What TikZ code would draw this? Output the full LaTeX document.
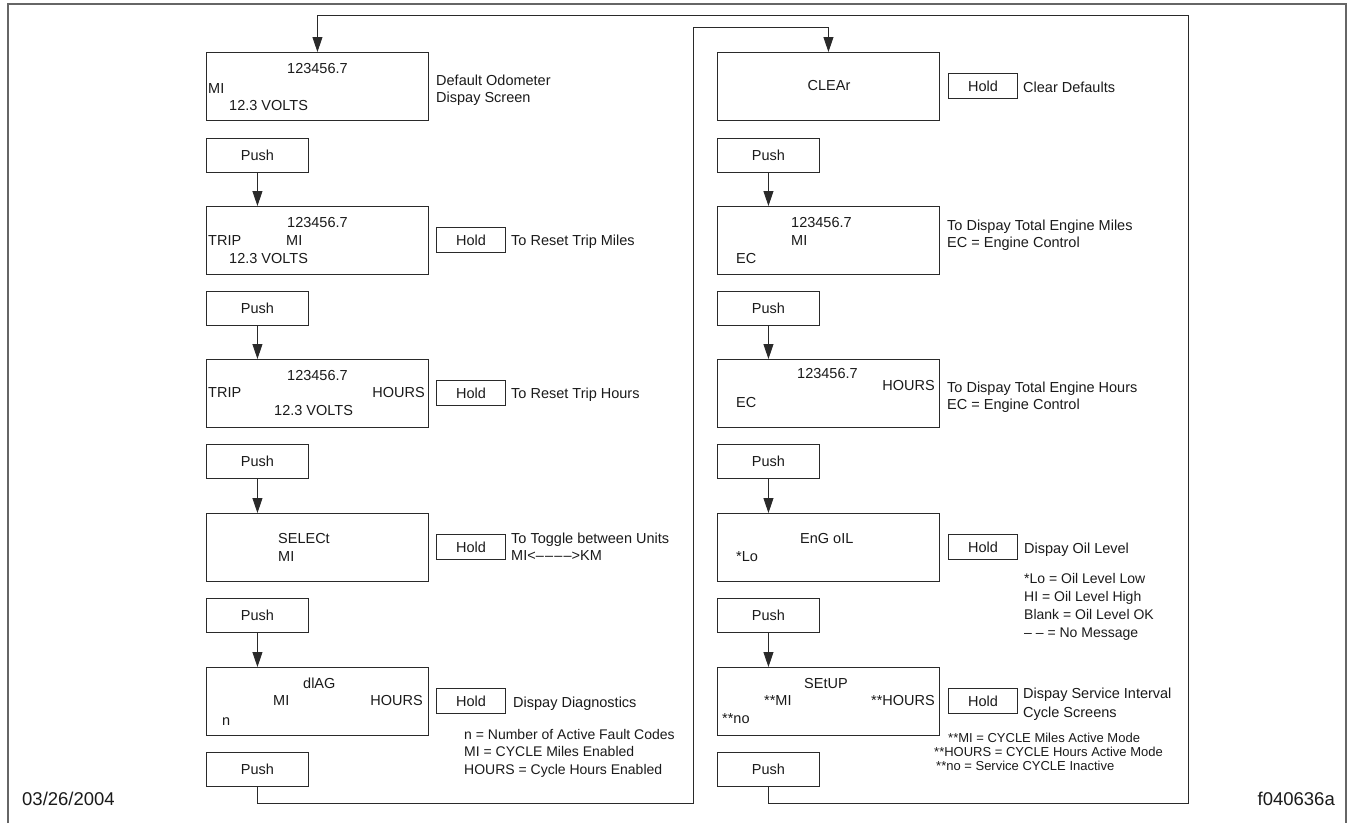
\documentclass[tikz,border=0pt]{standalone}
\usepackage{fontspec}
\setmainfont{Liberation Sans}
\usetikzlibrary{arrows.meta}
\definecolor{linec}{HTML}{2A2A2A}
\definecolor{framec}{HTML}{666666}
\definecolor{textc}{HTML}{1A1A1A}
\newcommand{\dsh}{–\kern1.2pt}
\begin{document}
\begin{tikzpicture}[x=1pt,y=-1pt,
  every node/.append style={font=\fontsize{14.5}{17}\selectfont},
  scr/.style={draw=linec, line width=0.9pt, anchor=north west, inner sep=0pt, minimum width=222pt, minimum height=68pt},
  btn/.style={draw=linec, line width=0.9pt, anchor=north west, inner sep=0pt, text height=10.4pt, text depth=0pt, text=textc},
  pushbox/.style={btn, minimum width=102pt, minimum height=34pt},
  holdbox/.style={btn, minimum width=69pt, minimum height=25pt},
  txt/.style={inner sep=0pt, text height=10.4pt, text depth=0pt, anchor=west, text=textc},
  rtxt/.style={txt, anchor=east},
  note/.style={txt, font=\fontsize{14}{16}\selectfont},
  snote/.style={txt, font=\fontsize{13}{15}\selectfont},
  big/.style={txt, font=\fontsize{18.5}{21}\selectfont},
  arr/.style={draw=linec, line width=0.9pt, -{Triangle[length=15pt,width=10pt]}},
  frame/.style={draw=framec, line width=1.6pt}]
\useasboundingbox (0,0) rectangle (1351,823);
\draw[frame] (8,823) -- (8,4) -- (1346,4) -- (1346,823);

% ---------------- left column ----------------
\node[scr] (s1) at (206,52) {};
\node[txt] (s1a) at (287,68) {123456.7};
\node[txt] (s1b) at (208,88) {MI};
\node[txt] (s1c) at (229,105) {12.3 VOLTS};
\node[txt] (l1a) at (436,80) {Default Odometer};
\node[txt] (l1b) at (436,97) {Dispay Screen};

\node[pushbox] (p1) at (206,138) {Push};

\node[scr] (s2) at (206,206) {};
\node[txt] (s2a) at (287,222) {123456.7};
\node[txt] (s2b) at (208,240) {TRIP};
\node[txt] (s2c) at (286,240) {MI};
\node[txt] (s2d) at (229,258) {12.3 VOLTS};
\node[holdbox] (h2) at (436,227) {Hold};
\node[txt] (l2) at (511,240) {To Reset Trip Miles};

\node[pushbox] (p2) at (206,291) {Push};

\node[scr] (s3) at (206,359) {};
\node[txt] (s3a) at (287,375) {123456.7};
\node[txt] (s3b) at (208,392) {TRIP};
\node[rtxt] (s3c) at (425,392) {HOURS};
\node[txt] (s3d) at (274,410) {12.3 VOLTS};
\node[holdbox] (h3) at (436,380) {Hold};
\node[txt] (l3) at (511,393) {To Reset Trip Hours};

\node[pushbox] (p3) at (206,444) {Push};

\node[scr] (s4) at (206,513) {};
\node[txt] (s4a) at (278,538) {SELECt};
\node[txt] (s4b) at (278,556) {MI};
\node[holdbox] (h4) at (436,534) {Hold};
\node[txt] (l4a) at (511,538) {To Toggle between Units};
\node[txt] (l4b) at (511,555) {MI<\dsh\dsh\dsh–>KM};

\node[pushbox] (p4) at (206,598) {Push};

\node[scr] (s5) at (206,667) {};
\node[txt] (s5a) at (303,683) {dlAG};
\node[txt] (s5b) at (273,700) {MI};
\node[rtxt] (s5c) at (423,700) {HOURS};
\node[txt] (s5d) at (222,720) {n};
\node[holdbox] (h5) at (436,688) {Hold};
\node[txt] (l5) at (513,702) {Dispay Diagnostics};
\node[note] (n5a) at (464,734) {n = Number of Active Fault Codes};
\node[note] (n5b) at (464,751) {MI = CYCLE Miles Enabled};
\node[note] (n5c) at (464,769) {HOURS = Cycle Hours Enabled};

\node[pushbox] (p5) at (206,752) {Push};

% ---------------- right column ----------------
\node[scr] (r1) at (717,52) {};
\node[txt, anchor=center] (r1a) at (829,85) {CLEAr};
\node[holdbox] (hr1) at (948,73) {Hold};
\node[txt] (lr1) at (1023,87) {Clear Defaults};

\node[pushbox] (q1) at (717,138) {Push};

\node[scr] (r2) at (717,206) {};
\node[txt] (r2a) at (791,222) {123456.7};
\node[txt] (r2b) at (791,240) {MI};
\node[txt] (r2c) at (736,258) {EC};
\node[txt] (lr2a) at (947,225) {To Dispay Total Engine Miles};
\node[txt] (lr2b) at (947,242) {EC = Engine Control};

\node[pushbox] (q2) at (717,291) {Push};

\node[scr] (r3) at (717,359) {};
\node[txt] (r3a) at (797,373) {123456.7};
\node[rtxt] (r3b) at (935,385) {HOURS};
\node[txt] (r3c) at (736,402) {EC};
\node[txt] (lr3a) at (947,387) {To Dispay Total Engine Hours};
\node[txt] (lr3b) at (947,404) {EC = Engine Control};

\node[pushbox] (q3) at (717,444) {Push};

\node[scr] (r4) at (717,513) {};
\node[txt] (r4a) at (800,538) {EnG oIL};
\node[txt] (r4b) at (736,556) {*Lo};
\node[holdbox] (hr4) at (948,534) {Hold};
\node[txt] (lr4) at (1024,548) {Dispay Oil Level};
\node[note] (nr4a) at (1024,578) {*Lo = Oil Level Low};
\node[note] (nr4b) at (1024,596) {HI = Oil Level High};
\node[note] (nr4c) at (1024,614) {Blank = Oil Level OK};
\node[note] (nr4d) at (1024,632) {– – = No Message};

\node[pushbox] (q4) at (717,598) {Push};

\node[scr] (r5) at (717,667) {};
\node[txt] (r5a) at (804,683) {SEtUP};
\node[txt] (r5b) at (764,700) {**MI};
\node[rtxt] (r5c) at (935,700) {**HOURS};
\node[txt] (r5d) at (722,718) {**no};
\node[holdbox] (hr5) at (948,688) {Hold};
\node[txt] (lr5a) at (1023,693) {Dispay Service Interval};
\node[txt] (lr5b) at (1023,712) {Cycle Screens};
\node[snote] (nr5a) at (948,737) {**MI = CYCLE Miles Active Mode};
\node[snote] (nr5b) at (934,751) {**HOURS = CYCLE Hours Active Mode};
\node[snote] (nr5c) at (936,765) {**no = Service CYCLE Inactive};

\node[pushbox] (q5) at (717,752) {Push};

% ---------------- footer ----------------
\node[big] (date) at (22,800) {03/26/2004};
\node[big, anchor=east] (fig) at (1335,800) {f040636a};

% ---------------- connectors ----------------
\foreach \a/\b in {p1/s2,p2/s3,p3/s4,p4/s5,q1/r2,q2/r3,q3/r4,q4/r5}
  \draw[arr] (\a.south) -- (\a.south |- \b.north);

\coordinate (ob) at (1188,803);
\coordinate (ot) at (1188,15);
\coordinate (ib) at (693,803);
\coordinate (it) at (693,27);
\draw[arr] (q5.south) |- (ob) -- (ot) -| (s1.north);
\draw[arr] (p5.south) |- (ib) -- (it) -| (r1.north);
\end{tikzpicture}
\end{document}
